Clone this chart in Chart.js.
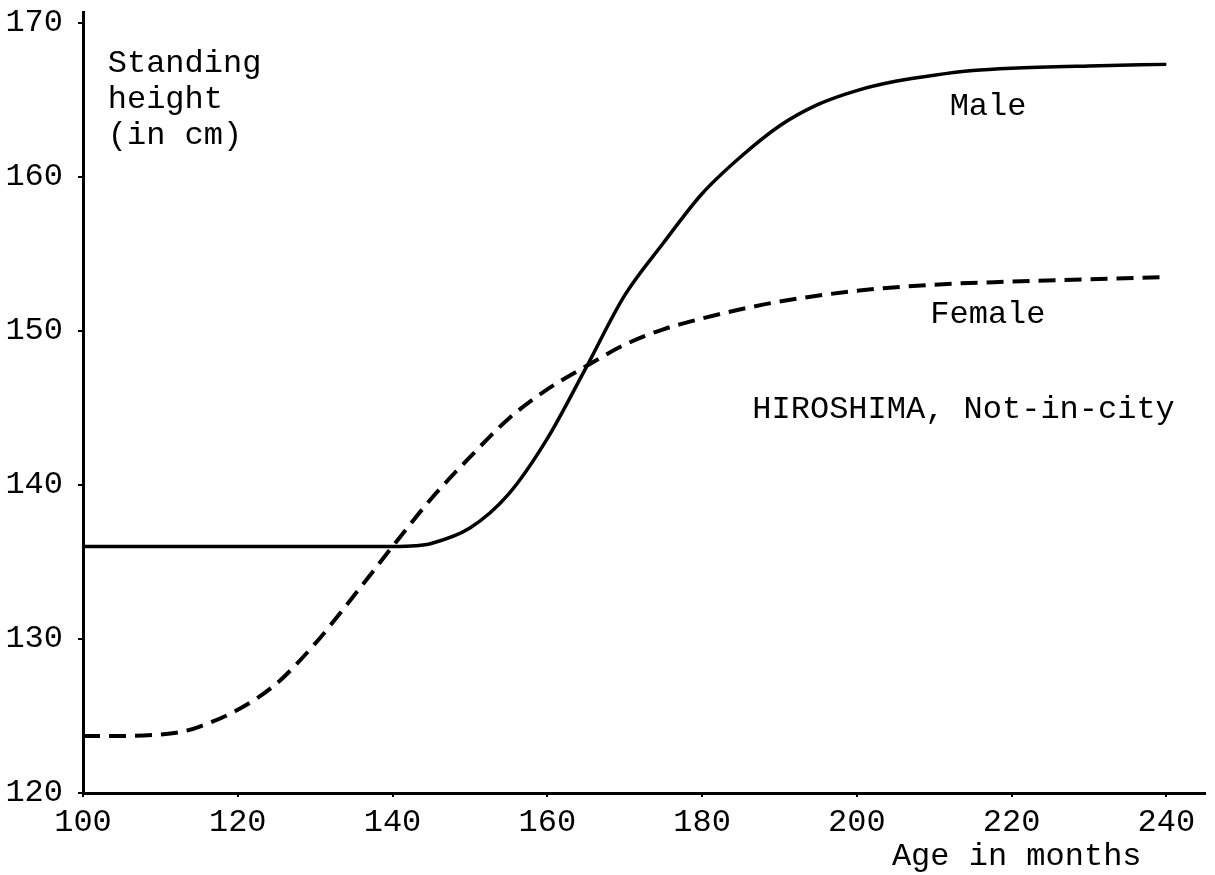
<!DOCTYPE html>
<html>
<head>
<meta charset="utf-8">
<script src="https://cdn.jsdelivr.net/npm/chart.js@4/dist/chart.umd.min.js"></script>
<style>
  html, body { margin: 0; padding: 0; background: #fff; }
  #wrap { width: 1215px; height: 875px; }
</style>
</head>
<body>
<div id="wrap"><canvas id="growth-chart" width="1215" height="875"></canvas></div>
<script>
// Idades (meses) e alturas
const maleAge = [100, 110, 120, 130, 140, 143, 145, 150, 155, 160, 165, 170, 175, 180, 185, 190, 195, 200, 205, 210, 215, 220, 230, 240];
const maleHeight = [136.0, 136.0, 136.0, 136.0, 136.0, 136.05, 136.2, 137.2, 139.4, 143.0, 147.6, 152.3, 155.7, 158.9, 161.3, 163.3, 164.7, 165.6, 166.2, 166.6, 166.9, 167.05, 167.2, 167.3];

const femaleAge = [100, 105, 110, 113, 115, 120, 125, 130, 135, 140, 145, 150, 155, 160, 165, 170, 175, 180, 185, 190, 200, 210, 220, 230, 240];
const femaleHeight = [123.7, 123.7, 123.8, 124.0, 124.3, 125.4, 127.1, 129.7, 132.8, 136.0, 139.1, 141.8, 144.3, 146.2, 147.7, 149.1, 150.1, 150.8, 151.4, 151.9, 152.6, 153.0, 153.2, 153.35, 153.5];

const xTicks = [100, 120, 140, 160, 180, 200, 220, 240];
const yTicks = [120, 130, 140, 150, 160, 170];

// Textos no gráfico (posição em unidades dos eixos)
const notes = [
  { text: 'Standing', x: 103.2, y: 166.8 },
  { text: 'height', x: 103.2, y: 164.5 },
  { text: '(in cm)', x: 103.2, y: 162.1 },
  { text: 'Male', x: 212.0, y: 164.0 },
  { text: 'Female', x: 209.5, y: 150.5 },
  { text: 'HIROSHIMA, Not-in-city', x: 186.5, y: 144.35 }
];

const FONT = "'Liberation Mono', 'DejaVu Sans Mono', monospace";

function toPoints(xs, ys) {
  return xs.map((x, i) => ({ x: x, y: ys[i] }));
}

const notesPlugin = {
  id: 'notes',
  afterDraw(chart) {
    const { ctx, scales } = chart;
    ctx.save();
    ctx.fillStyle = '#000';
    ctx.font = '32px ' + FONT;
    ctx.textBaseline = 'alphabetic';
    ctx.textAlign = 'left';
    notes.forEach(n => {
      ctx.fillText(n.text, scales.x.getPixelForValue(n.x), scales.y.getPixelForValue(n.y));
    });
    // título do eixo x, alinhado à direita
    ctx.textAlign = 'right';
    ctx.fillText('Age in months', scales.x.getPixelForValue(236.8), chart.chartArea.bottom + 72);
    ctx.restore();
  }
};

const ctx = document.getElementById('growth-chart').getContext('2d');
const chart = new Chart(ctx, {
  type: 'line',
  data: {
    datasets: [
      {
        label: 'Male',
        data: toPoints(maleAge, maleHeight),
        borderColor: '#000',
        borderWidth: 3.5,
        pointRadius: 0,
        fill: false,
        cubicInterpolationMode: 'monotone'
      },
      {
        label: 'Female',
        data: toPoints(femaleAge, femaleHeight),
        borderColor: '#000',
        borderWidth: 4,
        borderDash: [17, 9],
        pointRadius: 0,
        fill: false,
        cubicInterpolationMode: 'monotone'
      }
    ]
  },
  options: {
    responsive: false,
    animation: false,
    layout: { padding: { top: 12, right: 10, left: 0, bottom: 0 } },
    plugins: {
      legend: { display: false },
      tooltip: { enabled: false }
    },
    scales: {
      x: {
        type: 'linear',
        min: 100,
        max: 245,
        afterFit: scale => { scale.height = 82; },
        afterBuildTicks: scale => { scale.ticks = xTicks.map(v => ({ value: v })); },
        border: { display: true, color: '#000', width: 3 },
        grid: { drawOnChartArea: false, drawTicks: true, tickLength: 4, color: '#000', lineWidth: 2 },
        ticks: {
          color: '#000',
          padding: 6,
          maxRotation: 0,
          font: { family: FONT, size: 32 }
        }
      },
      y: {
        type: 'linear',
        min: 120,
        max: 170.7,
        afterFit: scale => {
          scale.width = 83;
          scale.paddingTop = 0;
          scale.paddingBottom = 0;
        },
        afterBuildTicks: scale => { scale.ticks = yTicks.map(v => ({ value: v })); },
        border: { display: true, color: '#000', width: 3 },
        grid: { drawOnChartArea: false, drawTicks: true, tickLength: 5, color: '#000', lineWidth: 2 },
        ticks: {
          color: '#000',
          padding: 15,
          font: { family: FONT, size: 32 }
        }
      }
    }
  },
  plugins: [notesPlugin]
});
</script>
</body>
</html>
